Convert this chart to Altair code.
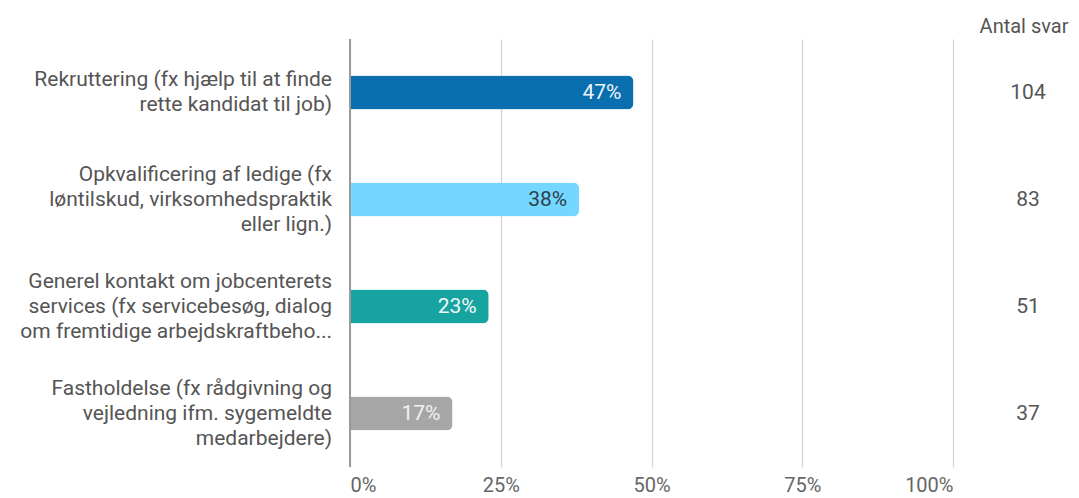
import altair as alt
import pandas as pd

categories = [
    "Rekruttering (fx hjælp til at finde\nrette kandidat til job)",
    "Opkvalificering af ledige (fx\nløntilskud, virksomhedspraktik\neller lign.)",
    "Generel kontakt om jobcenterets\nservices (fx servicebesøg, dialog\nom fremtidige arbejdskraftbeho...",
    "Fastholdelse (fx rådgivning og\nvejledning ifm. sygemeldte\nmedarbejdere)",
]
percent = [47, 38, 23, 17]
antal_svar = [104, 83, 51, 37]
bar_colors = ["#0a6fae", "#74d7ff", "#17a4a0", "#a6a6a6"]
label_colors = ["#eef4fa", "#2f3f48", "#eef8f7", "#f2f2f2"]
x_ticks = [0, 0.25, 0.5, 0.75, 1.0]

df = pd.DataFrame({
    "cat": categories,
    "share": [p / 100 for p in percent],
    "label": [f"{p}%" for p in percent],
    "n": [str(v) for v in antal_svar],
    "lines": [c.count("\n") + 1 for c in categories],
})

FONT = "Roboto"
FS = 21
LH = 25
y_enc = alt.Y("cat:N", sort=categories, axis=None,
              scale=alt.Scale(paddingInner=0, paddingOuter=0))

base = alt.Chart(df)

bars = base.mark_bar(size=34, cornerRadiusEnd=6).encode(
    x=alt.X("share:Q", scale=alt.Scale(domain=[0, 1]),
            axis=alt.Axis(values=x_ticks, format=".0%", title=None,
                          grid=True, gridColor="#d3d3d3", gridWidth=1.2,
                          domain=False, ticks=False, labelFlush=True,
                          labelPadding=8, labelFont=FONT, labelFontSize=20,
                          labelColor="#666666")),
    y=y_enc,
    color=alt.Color("cat:N", scale=alt.Scale(domain=categories, range=bar_colors),
                    legend=None),
)

zero_rule = base.mark_rule(color="#9a9a9a", strokeWidth=1.5).encode(
    x=alt.datum(0),
)

bar_labels = base.mark_text(align="right", baseline="middle", dx=-12,
                            font=FONT, fontSize=FS).encode(
    x="share:Q",
    y=y_enc,
    text="label:N",
    color=alt.Color("cat:N", scale=alt.Scale(domain=categories, range=label_colors),
                    legend=None),
)

def cat_layer(nlines):
    return base.transform_filter(alt.datum.lines == nlines).mark_text(
        align="right", baseline="middle", lineBreak="\n", lineHeight=LH,
        font=FONT, fontSize=FS, color="#555555", dy=-(nlines - 1) * LH / 2,
    ).encode(
        x=alt.value(-18),
        y=y_enc,
        text="cat:N",
    )

counts = base.mark_text(align="center", baseline="middle", font=FONT,
                        fontSize=FS, color="#555555").encode(
    x=alt.value(678),
    y=y_enc,
    text="n:N",
)

header = alt.Chart(pd.DataFrame({"t": ["Antal svar"]})).mark_text(
    align="center", baseline="middle", font=FONT, fontSize=20,
    color="#555555").encode(
    x=alt.value(674),
    y=alt.value(-12),
    text="t:N",
)

chart = alt.layer(bars, zero_rule, bar_labels, cat_layer(2), cat_layer(3),
                  counts, header).resolve_scale(
    color="independent"
).properties(
    width=603,
    height=428,
    autosize=alt.AutoSizeParams(type="none"),
    padding={"left": 342, "top": 31, "right": 118, "bottom": 31},
).configure_view(stroke=None)

chart.save("out.html", embed_options={"renderer": "svg", "actions": False})
